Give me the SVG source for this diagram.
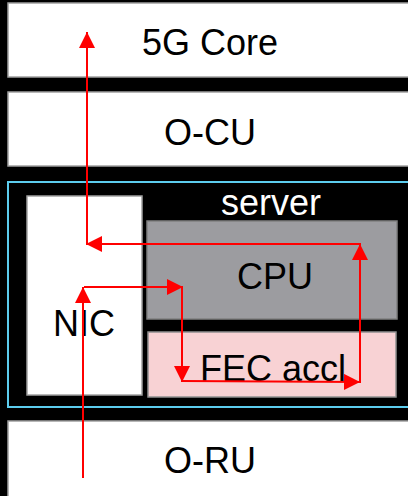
<svg xmlns="http://www.w3.org/2000/svg" width="408" height="496" viewBox="0 0 408 496">
<defs>
<style>
.box{fill:#fff;stroke:#a0a0a0;stroke-width:1.5}
.lbl{font-family:"Liberation Sans",Arial,sans-serif;font-size:36px;fill:#000;text-anchor:middle}
.wire{fill:none;stroke:#ff0000;stroke-width:2}
</style>
<marker id="ah" viewBox="0 0 16 16" refX="16" refY="8" markerWidth="16" markerHeight="16" markerUnits="userSpaceOnUse" orient="auto">
<path d="M0,0 L16,8 L0,16 Z" fill="#ff0000"/>
</marker>
</defs>
<rect width="408" height="496" fill="#000"/>
<g id="core"><rect class="box" x="8" y="3" width="420" height="74"/><text class="lbl" x="210" y="55">5G Core</text></g>
<g id="ocu"><rect class="box" x="8" y="92" width="420" height="74"/><text class="lbl" x="210" y="145">O-CU</text></g>
<g id="server"><rect x="8" y="182" width="420" height="225" fill="none" stroke="#5ccdee" stroke-width="2"/><text class="lbl" x="271" y="215" style="fill:#fff">server</text></g>
<g id="nic"><rect class="box" x="27" y="196" width="115" height="199"/><text class="lbl" x="84" y="336">NIC</text></g>
<g id="cpu"><rect x="147" y="221" width="250" height="98" fill="#9c9ca0" stroke="#808080" stroke-width="1.5"/><text class="lbl" x="275" y="289">CPU</text></g>
<g id="fec"><rect x="148" y="332" width="248" height="65" fill="#f8d2d4" stroke="#909090" stroke-width="1.5"/><text class="lbl" x="273" y="381">FEC accl</text></g>
<g id="oru"><rect class="box" x="8" y="421" width="420" height="80"/><text class="lbl" x="210" y="473">O-RU</text></g>
<g id="connectors">
<path class="wire" d="M83,478 V287" marker-end="url(#ah)"/>
<path class="wire" d="M84,287 H183" marker-end="url(#ah)"/>
<path class="wire" d="M182,287 V382" marker-end="url(#ah)"/>
<path class="wire" d="M182,381 L360,382" marker-end="url(#ah)"/>
<path class="wire" d="M360,383 V244" marker-end="url(#ah)"/>
<path class="wire" d="M361,244 H86" marker-end="url(#ah)"/>
<path class="wire" d="M87,245 V32" marker-end="url(#ah)"/>
</g>
</svg>
